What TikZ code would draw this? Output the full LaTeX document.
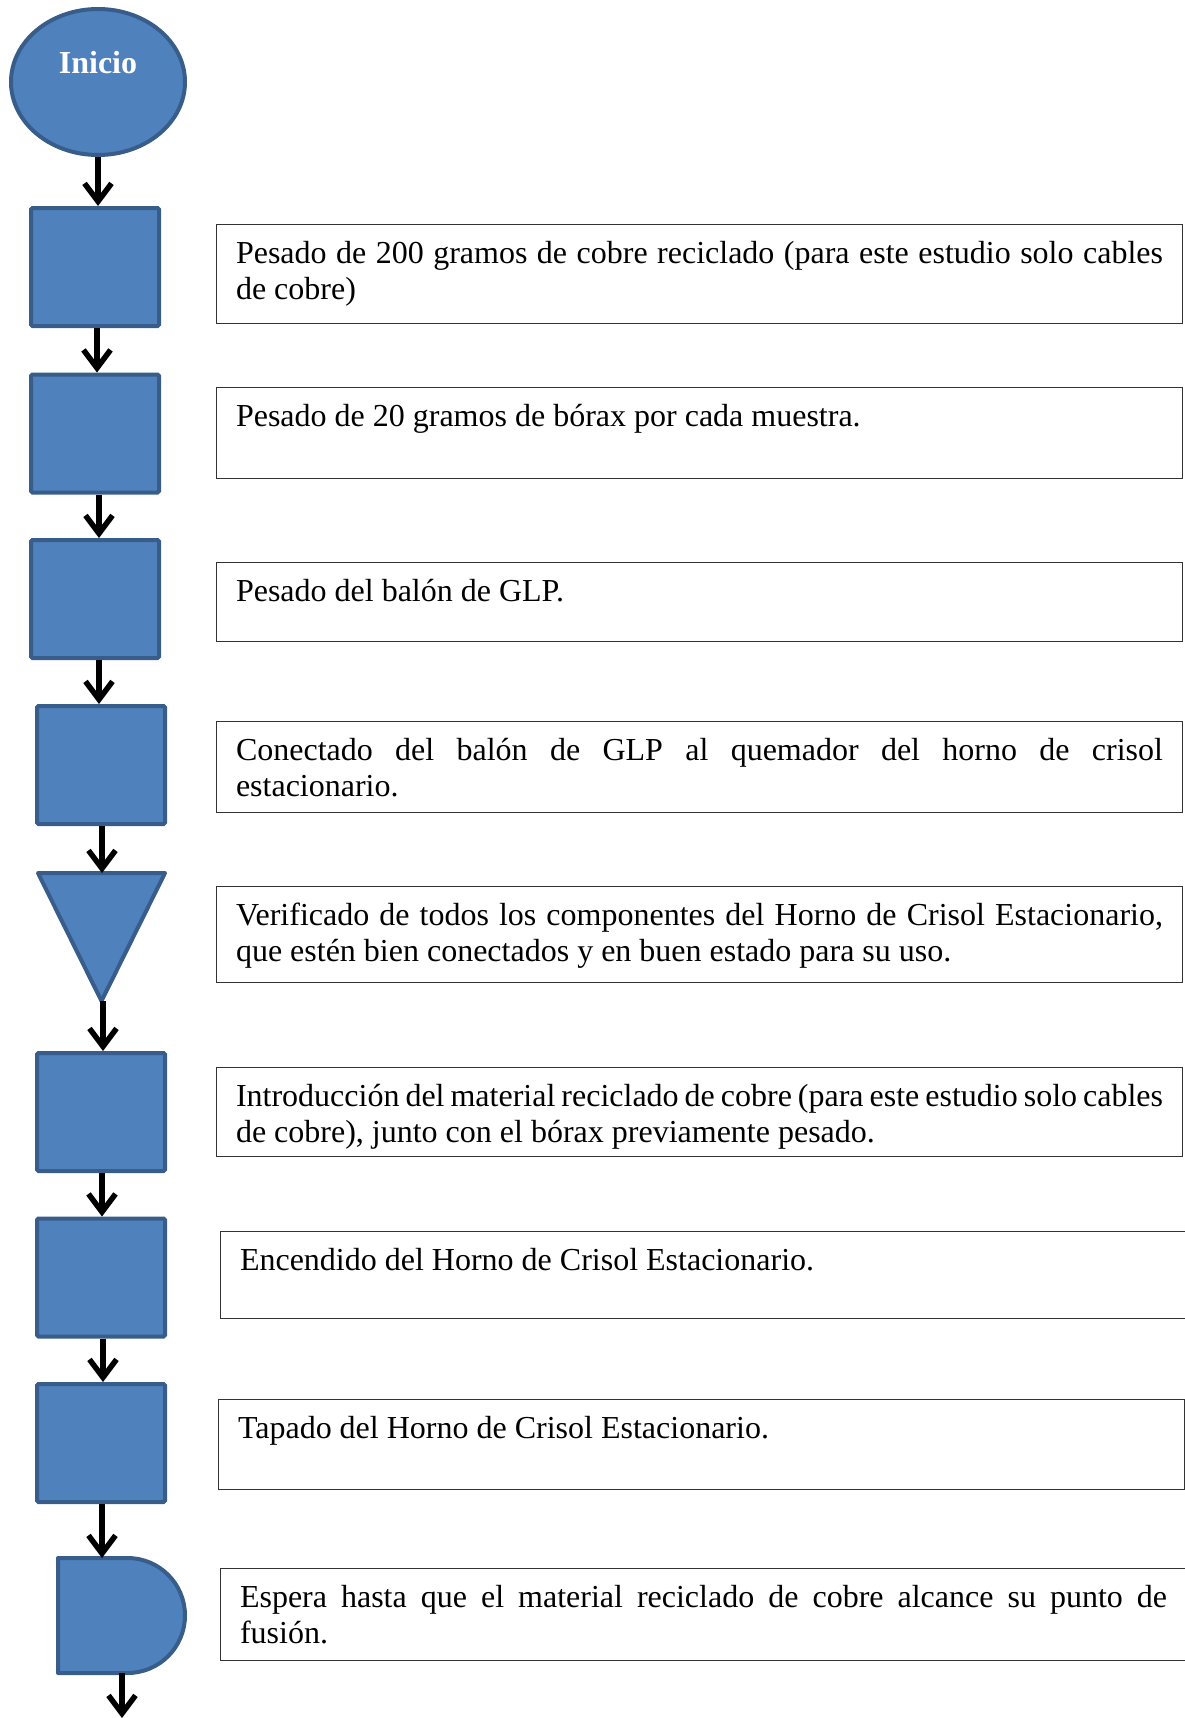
\documentclass[tikz,border=0pt]{standalone}
\usepackage{fontspec}
\setmainfont{Liberation Serif}
\usetikzlibrary{arrows.meta,shapes.geometric,calc}
\definecolor{shfill}{HTML}{4F81BD}
\definecolor{shdraw}{HTML}{385D8A}
\hyphenpenalty=10000
\exhyphenpenalty=10000
\tolerance=9999
% #1 name, #2 left x, #3 top y, #4 bottom y, #5 text
\newcommand\tboxnode[5]{%
  \node[tb] (#1) at (#2,#3) {\parbox[t][\dimexpr #4pt-#3pt-29.5pt\relax][t]{927pt}{\strut #5}};}
\begin{document}
\begin{tikzpicture}[x=1pt,y=-1pt,
  shp/.style={draw=shdraw, fill=shfill, line width=4pt},
  proc/.style={shp, rectangle, rounded corners=1.5pt, minimum width=128pt, minimum height=118pt, inner sep=0pt},
  tb/.style={draw=black!80, line width=1.5pt, inner xsep=19.5pt, inner ysep=14pt, anchor=north west, font=\fontsize{32}{36}\selectfont},
  arr/.style={line width=5.5pt, -{Straight Barb[length=18pt,width=27pt]}},
]
\useasboundingbox (0,0) rectangle (1184,1718);

% start
\node[shp, ellipse, minimum width=174pt, minimum height=146pt, inner sep=0pt,
      text=white, font=\bfseries\fontsize{32}{36}\selectfont,
      text height=22pt, text depth=38pt] (ell) at (98,82) {Inicio};

% process boxes
\node[proc] (b1) at (95,267) {};
\node[proc] (b2) at (95,433.5) {};
\node[proc] (b3) at (95,599) {};
\node[proc] (b4) at (101,765) {};
\node[proc] (b5) at (101,1112) {};
\node[proc] (b6) at (101,1277.5) {};
\node[proc] (b7) at (101,1443) {};

% inverted triangle
\draw[shp, line join=round] (38,873) -- (165,873) -- (101.5,1001) -- cycle;
\coordinate (tritop) at (102,873);
\coordinate (tritip) at (103,1001);

% delay shape
\draw[shp, line join=round] (58,1558) -- (127.5,1558) arc[start angle=-90,end angle=90,radius=57.5] -- (58,1673) -- cycle;
\coordinate (dtop) at (102,1558);
\coordinate (dbot) at (122,1673);
\coordinate (dend) at (122,1718);

% arrows
\draw[arr] (ell.south) -- (ell.south |- b1.north);
\draw[arr] ([xshift=2pt]b1.south) -- ([xshift=2pt]b1.south |- b2.north);
\draw[arr] ([xshift=4pt]b2.south) -- ([xshift=4pt]b2.south |- b3.north);
\draw[arr] ([xshift=4pt]b3.south) -- ([xshift=4pt]b3.south |- b4.north);
\draw[arr] ([xshift=1pt]b4.south) -- ([xshift=1pt]b4.south |- tritop);
\draw[arr] (tritip) -- (tritip |- b5.north);
\draw[arr] ([xshift=1pt]b5.south) -- ([xshift=1pt]b5.south |- b6.north);
\draw[arr] ([xshift=2pt]b6.south) -- ([xshift=2pt]b6.south |- b7.north);
\draw[arr] ([xshift=1pt]b7.south) -- ([xshift=1pt]b7.south |- dtop);
\draw[arr] (dbot) -- (dend);

% text boxes
\tboxnode{t1}{215.75}{223.75}{324.25}{Pesado de 200 gramos de cobre reciclado (para este estudio solo cables\linebreak de cobre)}
\tboxnode{t2}{215.75}{386.75}{479.25}{Pesado de 20 gramos de bórax por cada muestra.}
\tboxnode{t3}{215.75}{561.75}{642.25}{Pesado del balón de GLP.}
\tboxnode{t4}{215.75}{720.75}{813.25}{Conectado del balón de GLP al quemador del horno de crisol\linebreak estacionario.}
\tboxnode{t5}{215.75}{885.75}{983.25}{Verificado de todos los componentes del Horno de Crisol Estacionario,\linebreak que estén bien conectados y en buen estado para su uso.}
\tboxnode{t6}{215.75}{1066.75}{1157.25}{Introducción del material reciclado de cobre (para este estudio solo cables\linebreak de cobre), junto con el bórax previamente pesado.}
\tboxnode{t7}{219.75}{1230.75}{1319.25}{Encendido del Horno de Crisol Estacionario.}
\tboxnode{t8}{217.75}{1398.75}{1490.25}{Tapado del Horno de Crisol Estacionario.}
\tboxnode{t9}{219.75}{1567.75}{1661.25}{Espera hasta que el material reciclado de cobre alcance su punto de\linebreak fusión.}
\end{tikzpicture}
\end{document}
